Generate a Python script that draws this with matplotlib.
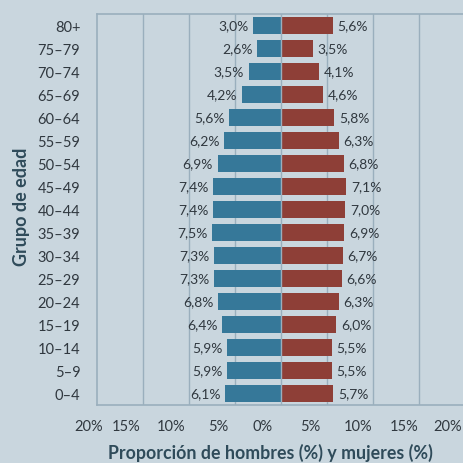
import matplotlib.pyplot as plt
from matplotlib.transforms import ScaledTranslation

plt.rcParams['font.family'] = ['Lato', 'DejaVu Sans']

groups = ["0–4", "5–9", "10–14", "15–19", "20–24", "25–29", "30–34", "35–39",
          "40–44", "45–49", "50–54", "55–59", "60–64", "65–69", "70–74", "75–79", "80+"]
hombres = [6.1, 5.9, 5.9, 6.4, 6.8, 7.3, 7.3, 7.5, 7.4, 7.4, 6.9, 6.2, 5.6, 4.2, 3.5, 2.6, 3.0]
mujeres = [5.7, 5.5, 5.5, 6.0, 6.3, 6.6, 6.7, 6.9, 7.0, 7.1, 6.8, 6.3, 5.8, 4.6, 4.1, 3.5, 5.6]
xticks = [-20, -15, -10, -5, 0, 5, 10, 15, 20]
xticklabels = ["20%", "15%", "10%", "5%", "0%", "5%", "10%", "15%", "20%"]

bg = "#c9d6de"
blue = "#367899"
red = "#8e3f37"
grid = "#9aafbd"
text_c = "#30383f"
title_c = "#2f4b5a"

fig = plt.figure(figsize=(4.63, 4.64), dpi=100, facecolor=bg)
ax = fig.add_axes([97 / 463, 1 - 406 / 464, 368 / 463, 391 / 464])
ax.set_facecolor(bg)

y = list(range(len(groups)))
ax.barh(y, [-v for v in hombres], height=0.74, color=blue, zorder=2)
ax.barh(y, mujeres, height=0.74, color=red, zorder=2)

for yi, h, m in zip(y, hombres, mujeres):
    ax.text(-h - 0.5, yi, f"{h:.1f}%".replace(".", ","), ha="right", va="center",
            fontsize=10, color=text_c)
    ax.text(m + 0.5, yi, f"{m:.1f}%".replace(".", ","), ha="left", va="center",
            fontsize=10, color=text_c)

ax.set_xlim(-20, 20)
ax.set_ylim(-0.5, len(groups) - 0.5)
for xv in [-15, -10, -5, 5, 10, 15]:
    ax.axvline(xv, color=grid, lw=1, zorder=1)
ax.axvline(0, color=grid, lw=1, zorder=3)

for s in ["left", "top", "bottom"]:
    ax.spines[s].set_color(grid)
    ax.spines[s].set_linewidth(1.2)
ax.spines["right"].set_visible(False)

ax.set_yticks(y)
ax.set_yticklabels(groups, fontsize=10.5, color=text_c)
ax.tick_params(axis="y", length=0, pad=12)

ax.set_xticks(xticks)
ax.set_xticklabels(xticklabels, fontsize=10.5, color=text_c)
ax.tick_params(axis="x", length=0, pad=10)
offsets = [-8, -17, -18, -17, -18, -17, -15, -15, -17]
for lab, dx in zip(ax.get_xticklabels(), offsets):
    lab.set_transform(lab.get_transform() + ScaledTranslation(dx / 100, 0, fig.dpi_scale_trans))

fig.text(270 / 463, 1 - 453 / 464, "Proporción de hombres (%) y mujeres (%)",
         ha="center", va="center", fontsize=12.8, fontweight="bold", color=title_c)
fig.text(22 / 463, 1 - 207 / 464, "Grupo de edad", rotation=90,
         ha="center", va="center", fontsize=13, fontweight="bold", color=title_c)

fig.savefig("out.png", dpi=100, facecolor=bg)
